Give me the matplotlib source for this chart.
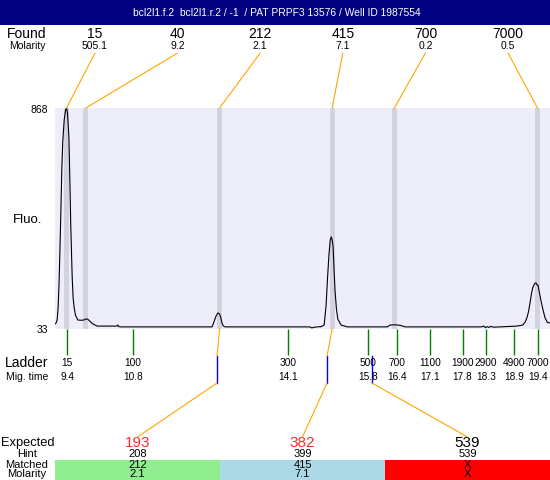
import matplotlib
matplotlib.use("Agg")
import matplotlib.pyplot as plt
import matplotlib.transforms as mtransforms
from matplotlib.patches import ConnectionPatch, Rectangle
import numpy as np

plt.rcParams['font.family'] = ['Liberation Sans', 'DejaVu Sans']

title = "bcl2l1.f.2  bcl2l1.r.2 / -1  / PAT PRPF3 13576 / Well ID 1987554"

# electropherogram trace: migration time (min) vs fluorescence
trace_t = [9.145, 9.17, 9.19, 9.21, 9.23, 9.25, 9.27, 9.29, 9.31, 9.34, 9.37, 9.39, 9.41,
           9.44, 9.46, 9.48, 9.51, 9.53, 9.55, 9.58, 9.63, 9.70, 9.76, 9.80, 9.84, 9.90,
           9.95, 10.04, 10.2, 10.46, 10.48, 10.5, 10.53, 11.5, 12.48, 12.52, 12.56, 12.6,
           12.63, 12.66, 12.69, 12.72, 12.76, 14.0, 14.55, 14.6, 14.65, 14.8, 14.86, 14.90,
           14.93, 14.96, 14.99, 15.01, 15.03, 15.05, 15.07, 15.09, 15.12, 15.15, 15.22,
           15.35, 16.2, 16.26, 16.36, 16.47, 16.58, 17.5, 18.2, 18.25, 18.28, 18.32, 18.36,
           18.40, 18.45, 18.6, 18.95, 19.08, 19.13, 19.17, 19.2, 19.23, 19.26, 19.29, 19.33,
           19.36, 19.38, 19.40, 19.42, 19.46, 19.5, 19.55, 19.6, 19.655]
trace_f = [52, 56, 67, 110, 200, 331, 480, 640, 740, 823, 860, 868, 850,
           758, 600, 420, 229, 150, 116, 85, 67, 66, 67, 71, 70, 60,
           52, 44, 44, 44, 48, 42, 41, 41, 41, 60, 80, 93,
           92, 80, 56, 44, 41, 41, 41, 37, 40, 42, 48, 120,
           220, 310, 370, 381, 370, 343, 260, 180, 110, 70, 48,
           41, 41, 48, 49, 47, 41, 41, 41, 44, 38, 42, 39,
           43, 40, 41, 44, 48, 60, 78, 100, 131, 165, 190, 205,
           207, 199, 199, 180, 143, 110, 75, 58, 56]

found_size = [15, 40, 212, 415, 700, 7000]
found_mol = ["505.1", "9.2", "2.1", "7.1", "0.2", "0.5"]
found_time = [9.39, 9.80, 12.64, 15.03, 16.35, 19.39]

ladder_size = [15, 100, 300, 500, 700, 1100, 1900, 2900, 4900, 7000]
ladder_time = [9.4, 10.8, 14.1, 15.8, 16.4, 17.1, 17.8, 18.3, 18.9, 19.4]

expected = [193, 382, 539]
expected_time = [12.585, 14.92, 15.875]
hint = [208, 399, 539]
matched = ["212", "415", "X"]
matched_mol = ["2.1", "7.1", "X"]
matched_found = [2, 3, None]   # index into found peaks
match_colors = ["#90EE90", "#ADD8E6", "#FF0000"]
expected_colors = ["#FF2A2A", "#FF2A2A", "black"]

ymin, ymax = 33, 868
tmin, tmax = 9.145, 19.655

W, H = 550, 480
fig = plt.figure(figsize=(W / 100, H / 100), dpi=100)

# pixel positions of the plot box
px0, px1, py0, py1 = 55, 550, 108, 329
ax = fig.add_axes([px0 / W, 1 - py1 / H, (px1 - px0) / W, (py1 - py0) / H])
ax.set_facecolor("#EEEEFB")
ax.set_xlim(tmin, tmax)
ax.set_ylim(ymin, ymax)
for s in ax.spines.values():
    s.set_visible(False)
ax.set_xticks([])
ax.set_yticks([])

for t in found_time:
    ax.axvspan(t - 0.053, t + 0.053, color="#D3D3E0", lw=0, zorder=1)
ax.plot(trace_t, trace_f, color="black", lw=0.8, zorder=3)

# overlay in pixel coords for all the text
ov = fig.add_axes([0, 0, 1, 1])
ov.set_xlim(0, W)
ov.set_ylim(H, 0)
ov.axis("off")
bt = mtransforms.blended_transform_factory(ax.transData, ov.transData)

ov.add_patch(Rectangle((0, 0), W, 25, color="#000080", lw=0))
ov.text(W / 2 + 2, 13, title, color="white", fontsize=7.4, ha="center", va="center")

ov.text(27, 34, "Found", fontsize=10, ha="center", va="center")
ov.text(27, 46, "Molarity", fontsize=7.5, ha="center", va="center")
label_x = np.linspace(95, 508, len(found_size))
for lx, s, m, t in zip(label_x, found_size, found_mol, found_time):
    ov.text(lx, 34, str(s), fontsize=10, ha="center", va="center")
    ov.text(lx, 46, m, fontsize=7.5, ha="center", va="center")
    con = ConnectionPatch(xyA=(lx, 53), coordsA=ov.transData, xyB=(t, ymax),
                          coordsB=ax.transData, color="orange", lw=0.8)
    fig.add_artist(con)

ov.text(48, py0 + 2, str(ymax), fontsize=7.5, ha="right", va="center")
ov.text(48, py1 + 1, str(ymin), fontsize=7.5, ha="right", va="center")
ov.text(13, 220, "Fluo.", fontsize=9.5, ha="left", va="center")

# ladder
ov.vlines(ladder_time, py1, 355, transform=bt, color="#007F00", lw=1)
ov.text(27, 363, "Ladder", fontsize=10, ha="center", va="center")
ov.text(27, 377, "Mig. time", fontsize=7.5, ha="center", va="center")
for s, t in zip(ladder_size, ladder_time):
    ov.text(t, 363, str(s), transform=bt, fontsize=7.3, ha="center", va="center")
    ov.text(t, 377, str(t), transform=bt, fontsize=7.3, ha="center", va="center")

# expected peaks and match table
col_w = (px1 - px0) / len(expected)
ov.text(27.5, 443, "Expected", fontsize=9.3, ha="center", va="center")
ov.text(27, 454, "Hint", fontsize=8, ha="center", va="center")
ov.text(27, 465, "Matched", fontsize=8, ha="center", va="center")
ov.text(27, 474, "Molarity", fontsize=8, ha="center", va="center")
for i, e in enumerate(expected):
    cx = px0 + col_w * (i + 0.5)
    et = expected_time[i]
    ov.add_patch(Rectangle((px0 + col_w * i, 460), col_w, 20, color=match_colors[i], lw=0))
    ov.text(cx, 443, str(e), fontsize=11, color=expected_colors[i], ha="center", va="center")
    ov.text(cx, 454, str(hint[i]), fontsize=8, ha="center", va="center")
    ov.text(cx, 465, matched[i], fontsize=8, ha="center", va="center")
    ov.text(cx, 474, matched_mol[i], fontsize=8, ha="center", va="center")
    ov.plot([et, et], [356, 383], transform=bt, color="blue", lw=1)
    if matched_found[i] is not None:
        ov.plot([found_time[matched_found[i]], et], [py1, 356], transform=bt,
                color="orange", lw=0.8)
    con = ConnectionPatch(xyA=(et, 383), coordsA=bt, xyB=(cx, 437),
                          coordsB=ov.transData, color="orange", lw=0.8)
    fig.add_artist(con)

fig.savefig("out.png", dpi=100)
